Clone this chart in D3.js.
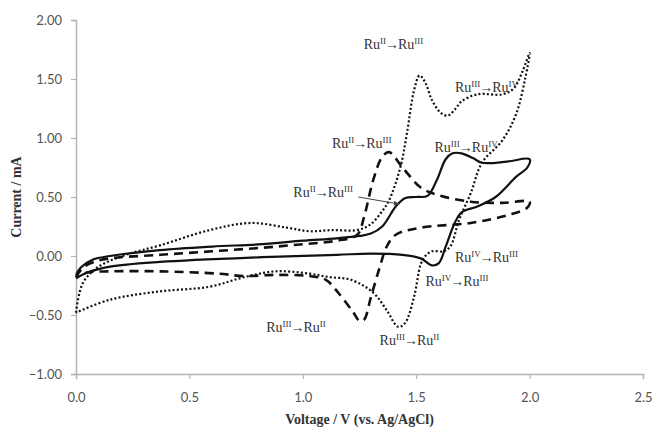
<!DOCTYPE html>
<html>
<head>
<meta charset="utf-8">
<title>Cyclic voltammograms</title>
<style>
  body { margin: 0; background: #fff; }
  #chart { width: 653px; height: 431px; }
</style>
</head>
<body>
<div id="chart"></div>
<script src="https://d3js.org/d3.v7.min.js"></script>
<script>
// solid trace: forward scan then reverse scan (V vs Ag/AgCl, mA)
const solidV = [0.00, 0.02, 0.075, 0.15, 0.37, 0.60, 0.82, 1.00, 1.15, 1.25, 1.30, 1.35, 1.41, 1.45, 1.50, 1.55, 1.59, 1.63, 1.66, 1.70, 1.75, 1.79, 1.90, 2.00,
                1.99, 1.94, 1.85, 1.77, 1.70, 1.67, 1.63, 1.60, 1.57, 1.52, 1.44, 1.30, 1.15, 0.82, 0.37, 0.15, 0.05, 0.00]
const solidI = [-0.16, -0.10, -0.03, 0.00, 0.05, 0.08, 0.10, 0.13, 0.15, 0.17, 0.19, 0.25, 0.42, 0.49, 0.50, 0.51, 0.64, 0.82, 0.87, 0.87, 0.83, 0.79, 0.80, 0.82,
                0.75, 0.67, 0.50, 0.42, 0.37, 0.28, 0.08, -0.06, -0.08, -0.02, 0.01, 0.02, 0.01, -0.01, -0.05, -0.09, -0.14, -0.19]

// dashed trace
const dashV = [0.00, 0.03, 0.08, 0.15, 0.37, 0.60, 0.82, 1.00, 1.15, 1.24, 1.27, 1.31, 1.35, 1.38, 1.44, 1.52, 1.59, 1.74, 1.88, 2.00,
               1.99, 1.91, 1.74, 1.52, 1.41, 1.37, 1.34, 1.30, 1.27, 1.25, 1.22, 1.16, 1.10, 1.03, 0.88, 0.74, 0.63, 0.37, 0.15, 0.05, 0.00]
const dashI = [-0.18, -0.10, -0.05, -0.02, 0.01, 0.04, 0.07, 0.10, 0.13, 0.18, 0.33, 0.64, 0.84, 0.88, 0.75, 0.58, 0.52, 0.46, 0.45, 0.46,
               0.41, 0.35, 0.28, 0.24, 0.18, 0.08, -0.09, -0.35, -0.54, -0.55, -0.47, -0.32, -0.20, -0.17, -0.16, -0.17, -0.15, -0.13, -0.13, -0.14, -0.18]

// dotted trace
const dotV = [0.00, 0.03, 0.10, 0.22, 0.37, 0.59, 0.77, 0.93, 1.03, 1.13, 1.24, 1.30, 1.35, 1.38, 1.43, 1.46, 1.49, 1.515, 1.54, 1.57, 1.61, 1.64, 1.67, 1.70, 1.77, 1.88, 1.93, 1.97, 2.00,
              1.98, 1.94, 1.88, 1.79, 1.74, 1.69, 1.65, 1.62, 1.57, 1.54, 1.52, 1.49, 1.45, 1.42, 1.37, 1.31, 1.21, 1.12, 1.03, 0.88, 0.74, 0.59, 0.37, 0.15, 0.00]
const dotI = [-0.48, -0.23, -0.09, 0.01, 0.09, 0.22, 0.28, 0.24, 0.21, 0.22, 0.22, 0.27, 0.38, 0.47, 0.75, 1.05, 1.40, 1.53, 1.47, 1.32, 1.21, 1.19, 1.24, 1.31, 1.37, 1.37, 1.42, 1.57, 1.72,
              1.50, 1.20, 0.98, 0.79, 0.53, 0.31, 0.08, 0.04, 0.04, 0.00, -0.07, -0.35, -0.57, -0.60, -0.46, -0.31, -0.20, -0.18, -0.15, -0.13, -0.18, -0.26, -0.30, -0.37, -0.48]

const xTicks = [0, 0.5, 1.0, 1.5, 2.0, 2.5]
const yTicks = [-1.0, -0.5, 0.0, 0.5, 1.0, 1.5, 2.0]

// peak annotations: label centre (V, mA), oxidation states
const labelV = [1.40, 1.81, 1.26, 1.72, 1.09, 1.81, 1.68, 0.97, 1.47]
const labelI = [1.80, 1.43, 0.96, 0.92, 0.54, -0.01, -0.21, -0.60, -0.71]
const labelFrom = ["II", "III", "II", "III", "II", "IV", "IV", "III", "III"]
const labelTo = ["III", "IV", "III", "IV", "III", "III", "III", "II", "II"]

// pointer from the shoulder label to the shoulder
const pointerV = [1.245, 1.425]
const pointerI = [0.50, 0.44]

const W = 653, H = 431
const margin = {top: 20, right: 10, bottom: 57, left: 76}

const svg = d3.select("#chart").append("svg")
    .attr("width", W)
    .attr("height", H)

const x = d3.scaleLinear().domain([0, 2.5]).range([margin.left, 643])
const y = d3.scaleLinear().domain([-1, 2]).range([374, margin.top])

// axes
svg.append("g")
    .attr("transform", `translate(0,${y(-1)})`)
    .call(d3.axisBottom(x).tickValues(xTicks).tickFormat(d3.format(".1f")).tickSizeOuter(0).tickSize(5).tickPadding(14))
svg.append("g")
    .attr("transform", `translate(${x(0)},0)`)
    .call(d3.axisLeft(y).tickValues(yTicks).tickFormat(d3.format(".2f")).tickSizeOuter(0).tickSize(5).tickPadding(9))

svg.selectAll(".domain").attr("stroke", "#b3b3b3").attr("stroke-width", 1.5)
svg.selectAll(".tick line").attr("stroke", "#b3b3b3").attr("stroke-width", 1.2)
svg.selectAll(".tick text")
    .attr("fill", "#555")
    .style("font-family", "Lato, 'Open Sans', sans-serif")
    .style("font-size", "13px")

svg.append("text")
    .attr("x", (x(0) + x(2.5)) / 2)
    .attr("y", 424)
    .attr("text-anchor", "middle")
    .style("font-family", "'Liberation Serif', 'DejaVu Serif', serif")
    .style("font-weight", "bold")
    .style("font-size", "14px")
    .attr("fill", "#333")
    .text("Voltage / V (vs. Ag/AgCl)")

svg.append("text")
    .attr("transform", `translate(21,${(y(-1) + y(2)) / 2}) rotate(-90)`)
    .attr("text-anchor", "middle")
    .style("font-family", "'Liberation Serif', 'DejaVu Serif', serif")
    .style("font-weight", "bold")
    .style("font-size", "14px")
    .attr("fill", "#333")
    .text("Current / mA")

// traces
const line = d3.line()
    .x(d => x(d[0]))
    .y(d => y(d[1]))
    .curve(d3.curveCatmullRom.alpha(0.5))

const traces = [
    {v: solidV, i: solidI, dash: null, w: 2.2},
    {v: dashV, i: dashI, dash: "9,6", w: 2.6},
    {v: dotV, i: dotI, dash: "2,2.2", w: 2.2}
]

svg.append("g").selectAll("path")
    .data(traces)
    .join("path")
    .attr("d", t => line(d3.zip(t.v, t.i)))
    .attr("fill", "none")
    .attr("stroke", "#111")
    .attr("stroke-width", t => t.w)
    .attr("stroke-dasharray", t => t.dash)

// pointer line with small head
svg.append("defs").append("marker")
    .attr("id", "head")
    .attr("viewBox", "0 0 10 10")
    .attr("refX", 9).attr("refY", 5)
    .attr("markerWidth", 6).attr("markerHeight", 6)
    .attr("orient", "auto")
    .append("path")
    .attr("d", "M0,1L10,5L0,9z")
    .attr("fill", "#444")

svg.append("line")
    .attr("x1", x(pointerV[0])).attr("y1", y(pointerI[0]))
    .attr("x2", x(pointerV[1])).attr("y2", y(pointerI[1]))
    .attr("stroke", "#444")
    .attr("stroke-width", 1)
    .attr("marker-end", "url(#head)")

// annotations
const labels = svg.append("g")
    .style("font-family", "'Liberation Serif', 'DejaVu Serif', serif")
    .style("font-size", "14px")
    .attr("fill", "#333")

labelV.forEach((v, k) => {
    const t = labels.append("text")
        .attr("x", x(v))
        .attr("y", y(labelI[k]) + 5)
        .attr("text-anchor", "middle")
    t.append("tspan").text("Ru")
    t.append("tspan").attr("dy", -5).style("font-size", "9px").text(labelFrom[k])
    t.append("tspan").attr("dy", 5).attr("dx", -1).text("\u2192")
    t.append("tspan").attr("dx", -1).text("Ru")
    t.append("tspan").attr("dy", -5).style("font-size", "9px").text(labelTo[k])
})
</script>
</body>
</html>
